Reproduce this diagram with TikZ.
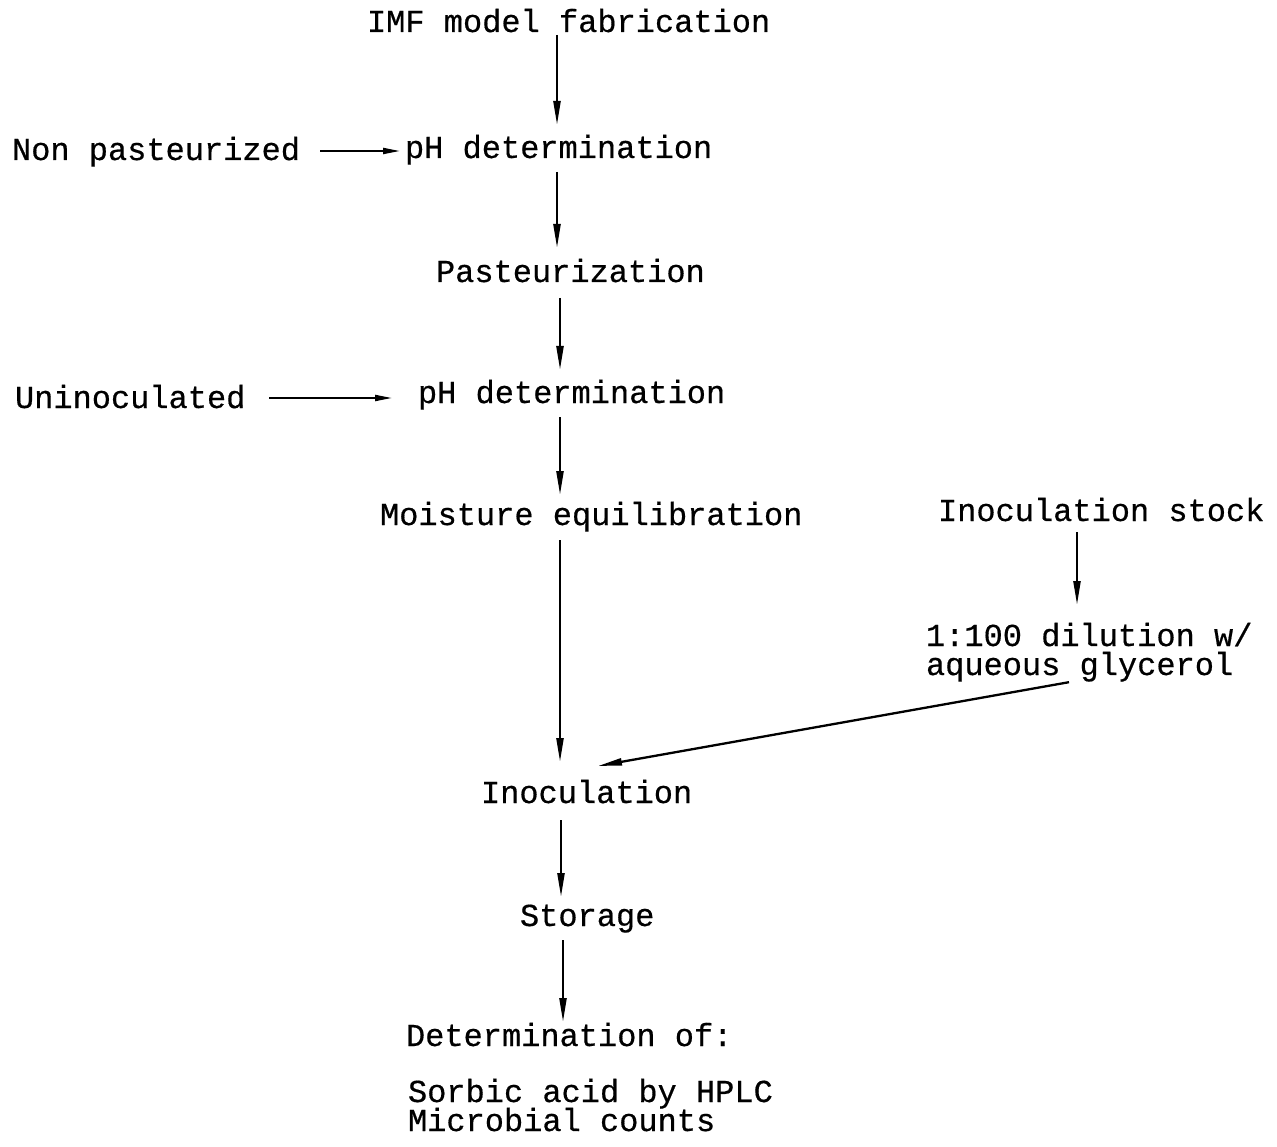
\documentclass[tikz,border=0pt]{standalone}
\usepackage{fontspec}
\setmainfont{Liberation Mono}[FakeBold=0.5]
\usetikzlibrary{arrows.meta,calc}
\begin{document}
\begin{tikzpicture}[x=1pt,y=-1pt,
  lbl/.style={anchor=base west,inner sep=0pt,outer sep=0pt,
    text height=24pt,text depth=7pt,font=\fontsize{32}{29}\selectfont},
  arr/.style={line width=2.3pt,-{Triangle[length=24pt,width=7pt]}},
  harr/.style={line width=2pt,-{Triangle[length=17pt,width=6pt]}}]
\useasboundingbox (0,0) rectangle (1277,1147);

% main column
\node[lbl] (imf)   at (367,32)   {IMF model fabrication};
\node[lbl] (ph1)   at (405,158)  {pH determination};
\node[lbl] (past)  at (436,282)  {Pasteurization};
\node[lbl] (ph2)   at (418,403)  {pH determination};
\node[lbl] (moist) at (380,525)  {Moisture equilibration};
\node[lbl] (ino)   at (481,803)  {Inoculation};
\node[lbl] (stor)  at (520,926)  {Storage};
\node[lbl] (det)   at (406,1046) {Determination of:};
\node[lbl] (sorb)  at (408,1102) {Sorbic acid by HPLC};
\node[lbl] (micr)  at (408,1131) {Microbial counts};

% side inputs
\node[lbl] (np)    at (12,160)   {Non pasteurized};
\node[lbl] (unino) at (15,408)   {Uninoculated};
\node[lbl] (stock) at (938,521)  {Inoculation stock};
\node[lbl] (dil1)  at (926,646)  {1:100 dilution w/};
\node[lbl] (dil2)  at (926,675)  {aqueous glycerol};

% vertical flow
\draw[arr,shorten <=-4pt,shorten >=9pt]  (imf.south -| 557,0)  -- (ph1.north -| 557,0);
\draw[arr,shorten <=7pt,shorten >=10pt]  (ph1.south -| 557,0)  -- (past.north -| 557,0);
\draw[arr,shorten <=9pt,shorten >=9pt]   (past.south -| 560,0) -- (ph2.north -| 560,0);
\draw[arr,shorten <=7pt,shorten >=6pt]   (ph2.south -| 560,0)  -- (moist.north -| 560,0);
\draw[arr,shorten <=8pt,shorten >=17pt]  (moist.south -| 560,0) -- (ino.north -| 560,0);
\draw[arr,shorten <=10pt,shorten >=5pt]  (ino.south -| 561,0)  -- (stor.north -| 561,0);
\draw[arr,shorten <=7pt,shorten >=0pt]   (stor.south -| 563,0) -- (det.north -| 563,0);
\draw[arr,shorten <=4pt,shorten >=17pt]  (stock.south -| 1077,0) -- (dil1.north -| 1077,0);

% horizontal inputs
\coordinate (npa) at ($(np.base east)+(0,-9)$);
\draw[harr,shorten <=20pt,shorten >=5pt] (npa) -- (npa -| ph1.west);
\coordinate (una) at ($(unino.base east)+(0,-10)$);
\draw[harr,shorten <=24pt,shorten >=26pt] (una) -- (una -| ph2.west);

% diluted stock into inoculation
\coordinate (dend) at ($(ino.north -| 598,0)+(0,-13)$);
\draw[arr,shorten <=1pt] (dil2.south -| 1070,0) -- (dend);
\end{tikzpicture}
\end{document}
